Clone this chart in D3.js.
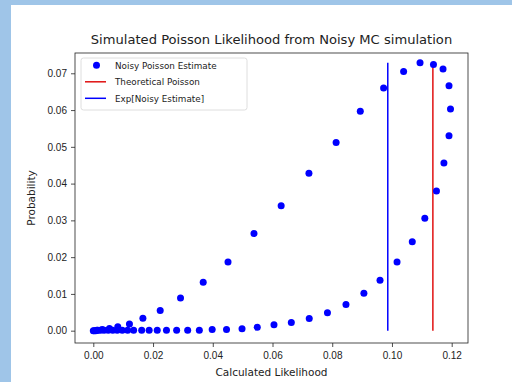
<!DOCTYPE html>
<html>
<head>
<meta charset="utf-8">
<script src="https://cdn.jsdelivr.net/npm/d3@7"></script>
<style>
  body { margin: 0; background: #9fc5e8; }
  svg { display: block; font-family: "DejaVu Sans", sans-serif; }
</style>
</head>
<body>
<div id="chart"></div>
<script>
// Noisy Poisson estimate: calculated likelihood vs probability
const likelihood = [
  0.0000, 0.0003, 0.0008, 0.0015, 0.0024, 0.0036, 0.0050, 0.0065, 0.0080, 0.0097,
  0.0115, 0.0135, 0.0162, 0.0187, 0.0214, 0.0245, 0.0279, 0.0316, 0.0355, 0.0398,
  0.0446, 0.0498, 0.0549, 0.0605, 0.0663, 0.0723, 0.0784, 0.0846, 0.0906, 0.0960,
  0.1017, 0.1068, 0.1110, 0.1149, 0.1174, 0.1191, 0.1196, 0.1191, 0.1171, 0.1139,
  0.1094, 0.1039, 0.0972, 0.0894, 0.0813, 0.0722, 0.0629, 0.0538, 0.0451, 0.0368,
  0.0292, 0.0224, 0.0166, 0.0121, 0.0082, 0.0054, 0.0030, 0.0012
];
const probability = [
  0.0000, 0.0000, 0.0000, 0.0001, 0.0001, 0.0001, 0.0001, 0.0001, 0.0001, 0.0001,
  0.0001, 0.0001, 0.0001, 0.0001, 0.0001, 0.0001, 0.0001, 0.0001, 0.0001, 0.0003,
  0.0003, 0.0005, 0.0009, 0.0016, 0.0022, 0.0033, 0.0049, 0.0071, 0.0102, 0.0137,
  0.0187, 0.0242, 0.0306, 0.0380, 0.0456, 0.0530, 0.0603, 0.0666, 0.0712, 0.0724,
  0.0729, 0.0705, 0.0660, 0.0597, 0.0512, 0.0428, 0.0340, 0.0264, 0.0187, 0.0132,
  0.0089, 0.0055, 0.0034, 0.0018, 0.0011, 0.0006, 0.0003, 0.0001
];
const theoreticalPoisson = 0.1137;
const expNoisyEstimate = 0.0986;
const lineTop = 0.0729;

const xTicks = [0, 0.02, 0.04, 0.06, 0.08, 0.10, 0.12];
const yTicks = [0, 0.01, 0.02, 0.03, 0.04, 0.05, 0.06, 0.07];

const legendItems = [
  { label: "Noisy Poisson Estimate", type: "dot", color: "blue" },
  { label: "Theoretical Poisson", type: "line", color: "red" },
  { label: "Exp[Noisy Estimate]", type: "line", color: "blue" }
];

const width = 512, height = 382;
const plot = { left: 75, right: 468, top: 53, bottom: 343 };

const svg = d3.select("#chart").append("svg")
  .attr("width", width)
  .attr("height", height);

// blue frame around the figure
svg.append("rect").attr("width", width).attr("height", height).attr("fill", "#9fc5e8");
svg.append("rect").attr("x", 11).attr("y", 5)
  .attr("width", width - 11).attr("height", height - 5).attr("fill", "#ffffff");

const x = d3.scaleLinear().domain([-0.00613, 0.12546]).range([plot.left, plot.right]);
const y = d3.scaleLinear().domain([-0.00335, 0.07552]).range([plot.bottom, plot.top]);

// axes
svg.append("g")
  .attr("transform", `translate(0,${plot.bottom})`)
  .call(d3.axisBottom(x).tickValues(xTicks).tickFormat(d3.format(".2f")).tickSizeOuter(0).tickSize(4))
  .call(g => g.select(".domain").remove())
  .call(g => g.selectAll("text").attr("y", 8).attr("dy", "0.75em").style("font-size", "10px").attr("fill", "#222"));

svg.append("g")
  .attr("transform", `translate(${plot.left},0)`)
  .call(d3.axisLeft(y).tickValues(yTicks).tickFormat(d3.format(".2f")).tickSizeOuter(0).tickSize(4))
  .call(g => g.select(".domain").remove())
  .call(g => g.selectAll("text").attr("x", -8).style("font-size", "10px").attr("fill", "#222"));

svg.selectAll(".tick line").attr("stroke", "#222").attr("stroke-width", 0.8);

// points
const points = likelihood.map((v, i) => ({ x: v, y: probability[i] }));

// vertical lines
svg.append("line")
  .attr("x1", x(expNoisyEstimate)).attr("x2", x(expNoisyEstimate))
  .attr("y1", y(0)).attr("y2", y(lineTop))
  .attr("stroke", "blue").attr("stroke-width", 1.5);
svg.append("line")
  .attr("x1", x(theoreticalPoisson)).attr("x2", x(theoreticalPoisson))
  .attr("y1", y(0)).attr("y2", y(lineTop))
  .attr("stroke", "#e01010").attr("stroke-width", 1.5);

svg.append("g").selectAll("circle")
  .data(points)
  .join("circle")
  .attr("cx", d => x(d.x))
  .attr("cy", d => y(d.y))
  .attr("r", 3.5)
  .attr("fill", "blue");

// frame
svg.append("rect")
  .attr("x", plot.left).attr("y", plot.top)
  .attr("width", plot.right - plot.left).attr("height", plot.bottom - plot.top)
  .attr("fill", "none").attr("stroke", "#222").attr("stroke-width", 0.8);

// title and labels
svg.append("text")
  .attr("x", (plot.left + plot.right) / 2).attr("y", 44)
  .attr("text-anchor", "middle")
  .style("font-size", "13.1px").attr("fill", "#222")
  .text("Simulated Poisson Likelihood from Noisy MC simulation");

svg.append("text")
  .attr("x", (plot.left + plot.right) / 2).attr("y", 375.5)
  .attr("text-anchor", "middle")
  .style("font-size", "10.5px").attr("fill", "#222")
  .text("Calculated Likelihood");

svg.append("text")
  .attr("transform", `translate(35,${(plot.top + plot.bottom) / 2}) rotate(-90)`)
  .attr("text-anchor", "middle")
  .style("font-size", "10.5px").attr("fill", "#222")
  .text("Probability");

// legend
const legend = svg.append("g").attr("transform", "translate(81,58)");
legend.append("rect")
  .attr("width", 166).attr("height", 52).attr("rx", 2.5)
  .attr("fill", "#fff").attr("fill-opacity", 0.8)
  .attr("stroke", "#d6d6d6").attr("stroke-width", 0.8);

legendItems.forEach((d, i) => {
  const row = legend.append("g").attr("transform", `translate(0,${7.3 + i * 16.5})`);
  if (d.type === "dot") {
    row.append("circle").attr("cx", 15.5).attr("cy", 0).attr("r", 3.5).attr("fill", d.color);
  } else {
    row.append("line").attr("x1", 4).attr("x2", 25).attr("y1", 0).attr("y2", 0)
      .attr("stroke", d.color === "red" ? "#e01010" : d.color).attr("stroke-width", 1.5);
  }
  row.append("text").attr("x", 34).attr("y", 3.5)
    .style("font-size", "8.8px").attr("fill", "#222")
    .text(d.label);
});
</script>
</body>
</html>
